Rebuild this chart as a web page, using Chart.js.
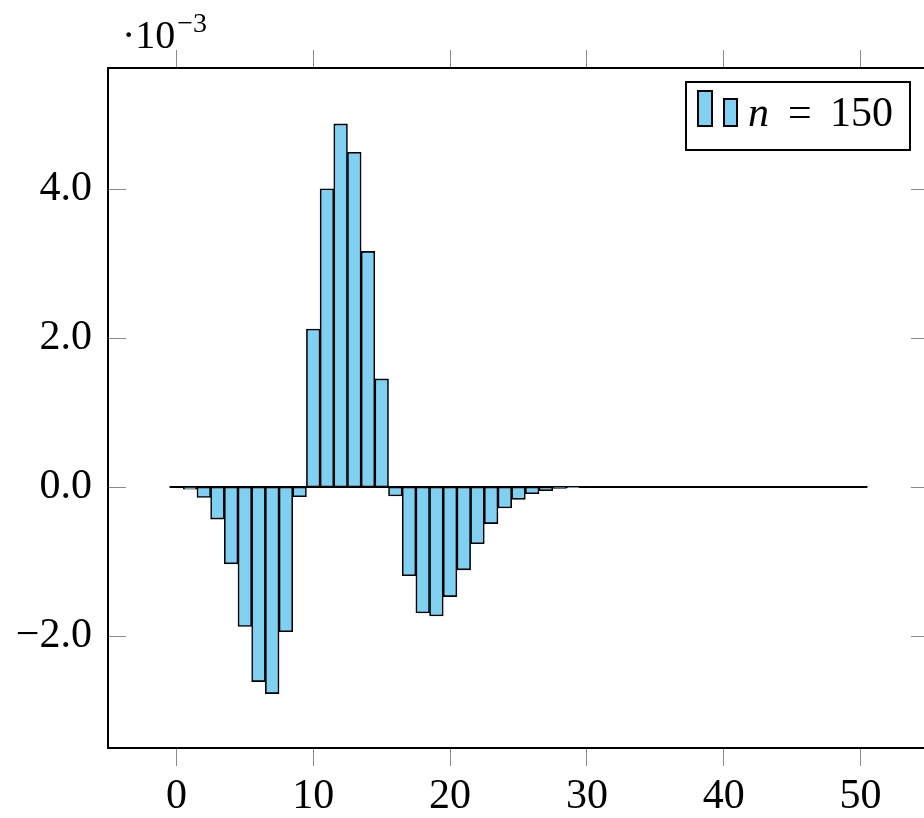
<!DOCTYPE html>
<html lang="es">
<head>
<meta charset="utf-8">
<title>n = 150</title>
<script src="https://cdn.jsdelivr.net/npm/chart.js@4.4.1/dist/chart.umd.min.js"></script>
<style>
    html, body { margin: 0; padding: 0; background: #fff; overflow: hidden; }
    #grafico { display: block; }
</style>
</head>
<body>
<canvas id="grafico" width="934" height="818"></canvas>
<script>
// posiciones de las barras
const posiciones = [0, 1, 2, 3, 4, 5, 6, 7, 8, 9, 10, 11, 12, 13, 14, 15, 16, 17, 18, 19, 20,
    21, 22, 23, 24, 25, 26, 27, 28, 29, 30, 31, 32, 33, 34, 35, 36, 37, 38, 39, 40,
    41, 42, 43, 44, 45, 46, 47, 48, 49, 50];

// valores en unidades de 10^-3
const valores = [0, -0.03, -0.14, -0.43, -1.03, -1.87, -2.61, -2.77, -1.94, -0.13,
    2.12, 4.00, 4.87, 4.49, 3.16, 1.45, -0.12, -1.19, -1.69, -1.73,
    -1.47, -1.11, -0.76, -0.49, -0.28, -0.165, -0.09, -0.05, -0.02, -0.01,
    0, 0, 0, 0, 0, 0, 0, 0, 0, 0,
    0, 0, 0, 0, 0, 0, 0, 0, 0, 0, 0];

const ticksX = [0, 10, 20, 30, 40, 50];
const ticksY = [-2, 0, 2, 4];
const leyenda = 'n = 150';

const colorBarra = 'rgb(128, 208, 242)';
const colorTick = '#8a8a8a';
const fuente = '"Liberation Serif", "DejaVu Serif", serif';

function etiquetaY(v) {
    return v.toFixed(1).replace('-', '\u2212');
}

const marco = {
    id: 'marco',
    afterDatasetsDraw(chart) {
        const { ctx, chartArea: a, scales } = chart;
        ctx.save();

        // ticks del eje y hacia dentro, a los dos lados
        ctx.strokeStyle = colorTick;
        ctx.lineWidth = 1;
        ticksY.forEach(v => {
            const y = Math.round(scales.y.getPixelForValue(v)) + 0.5;
            ctx.beginPath();
            ctx.moveTo(a.left, y);
            ctx.lineTo(a.left + 18, y);
            ctx.moveTo(a.right, y);
            ctx.lineTo(a.right - 18, y);
            ctx.stroke();
        });

        // caja del eje
        ctx.strokeStyle = '#000';
        ctx.lineWidth = 2;
        ctx.strokeRect(a.left, a.top, a.right - a.left, a.bottom - a.top);

        // leyenda
        const lx = a.right - 243;
        const ly = a.top + 14;
        ctx.fillStyle = '#fff';
        ctx.fillRect(lx, ly, 224, 68);
        ctx.strokeRect(lx, ly, 224, 68);

        ctx.fillStyle = colorBarra;
        ctx.fillRect(lx + 12, ly + 9, 14, 35);
        ctx.strokeRect(lx + 12, ly + 9, 14, 35);
        ctx.fillRect(lx + 38, ly + 17, 13, 27);
        ctx.strokeRect(lx + 38, ly + 17, 13, 27);

        const partes = leyenda.split(' ');
        ctx.fillStyle = '#000';
        ctx.textBaseline = 'alphabetic';
        ctx.textAlign = 'left';
        ctx.font = 'italic 42px ' + fuente;
        ctx.fillText(partes[0], lx + 62, ly + 44);
        ctx.font = '42px ' + fuente;
        ctx.fillText(partes[1], lx + 102, ly + 44);
        ctx.fillText(partes[2], lx + 144, ly + 44);

        // factor de escala arriba a la izquierda
        ctx.font = '40px ' + fuente;
        ctx.fillText('\u00b710', a.left + 14, a.top - 20);
        const ancho = ctx.measureText('\u00b710').width;
        ctx.font = '28px ' + fuente;
        ctx.fillText('\u22123', a.left + 16 + ancho, a.top - 36);

        ctx.restore();
    }
};

const ctx = document.getElementById('grafico').getContext('2d');

new Chart(ctx, {
    type: 'bar',
    data: {
        datasets: [
            {
                type: 'line',
                label: 'cero',
                data: [
                    { x: posiciones[0] - 0.5, y: 0 },
                    { x: posiciones[posiciones.length - 1] + 0.5, y: 0 }
                ],
                borderColor: '#000',
                borderWidth: 2,
                pointRadius: 0,
                order: 2
            },
            {
                label: leyenda,
                data: posiciones.map((p, i) => ({ x: p, y: valores[i] })),
                backgroundColor: colorBarra,
                borderColor: '#000',
                borderWidth: 1.6,
                borderSkipped: false,
                barPercentage: 1,
                categoryPercentage: 1,
                order: 1
            }
        ]
    },
    options: {
        responsive: false,
        animation: false,
        events: [],
        layout: {
            padding: { top: 50, left: 0, right: 5, bottom: 0 }
        },
        plugins: {
            legend: { display: false },
            tooltip: { enabled: false }
        },
        scales: {
            x: {
                type: 'linear',
                position: 'bottom',
                min: -5,
                max: 55,
                offset: false,
                afterBuildTicks: axis => { axis.ticks = ticksX.map(v => ({ value: v })); },
                afterFit: axis => { axis.height = 70; },
                grid: {
                    offset: false,
                    drawOnChartArea: false,
                    drawTicks: true,
                    tickLength: 18,
                    tickColor: colorTick,
                    tickWidth: 1
                },
                border: { display: false },
                ticks: {
                    color: '#000',
                    padding: 6,
                    maxRotation: 0,
                    font: { family: fuente, size: 42 }
                }
            },
            x2: {
                type: 'linear',
                position: 'top',
                min: -5,
                max: 55,
                offset: false,
                afterBuildTicks: axis => { axis.ticks = ticksX.map(v => ({ value: v })); },
                afterFit: axis => { axis.height = 18; },
                grid: {
                    offset: false,
                    drawOnChartArea: false,
                    drawTicks: true,
                    tickLength: 18,
                    tickColor: colorTick,
                    tickWidth: 1
                },
                border: { display: false },
                ticks: { display: false }
            },
            y: {
                type: 'linear',
                position: 'left',
                min: -3.5,
                max: 5.62,
                afterBuildTicks: axis => { axis.ticks = ticksY.map(v => ({ value: v })); },
                afterFit: axis => { axis.width = 108; },
                grid: { display: false, drawTicks: false },
                border: { display: false },
                ticks: {
                    color: '#000',
                    padding: 16,
                    font: { family: fuente, size: 42 },
                    callback: v => etiquetaY(v)
                }
            }
        }
    },
    plugins: [marco]
});
</script>
</body>
</html>
